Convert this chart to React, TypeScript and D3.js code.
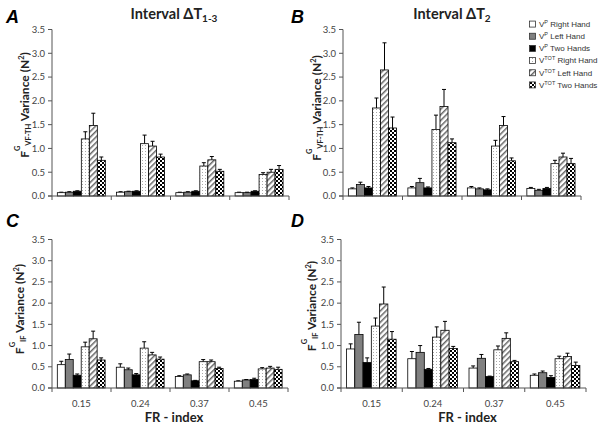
import React from "react";
import * as d3 from "d3";

const categories = ["0.15", "0.24", "0.37", "0.45"];
const seriesKeys = ["vpR", "vpL", "vp2", "vtR", "vtL", "vt2"];
const seriesBase = ["V", "V", "V", "V", "V", "V"];
const seriesSup = ["P", "P", "P", "TOT", "TOT", "TOT"];
const seriesRest = [" Right Hand", " Left Hand", " Two Hands", " Right Hand", " Left Hand", " Two Hands"];
const yTicks = [0, 0.5, 1.0, 1.5, 2.0, 2.5, 3.0, 3.5];

// Panel A: F^G VF-TH, interval dT1-3
const meansA = [
  [0.07, 0.08, 0.10, 1.20, 1.48, 0.75],
  [0.08, 0.09, 0.10, 1.10, 1.05, 0.82],
  [0.07, 0.08, 0.10, 0.63, 0.76, 0.52],
  [0.07, 0.07, 0.10, 0.45, 0.50, 0.56],
];
const errsA = [
  [0.01, 0.01, 0.01, 0.15, 0.26, 0.07],
  [0.01, 0.01, 0.01, 0.18, 0.10, 0.06],
  [0.01, 0.01, 0.01, 0.07, 0.07, 0.04],
  [0.01, 0.01, 0.01, 0.04, 0.06, 0.08],
];
// Panel B: F^G VF-TH, interval dT2
const meansB = [
  [0.15, 0.24, 0.17, 1.85, 2.65, 1.43],
  [0.17, 0.28, 0.17, 1.40, 1.88, 1.12],
  [0.17, 0.15, 0.13, 1.05, 1.48, 0.74],
  [0.16, 0.12, 0.16, 0.68, 0.82, 0.68],
];
const errsB = [
  [0.02, 0.05, 0.03, 0.21, 0.57, 0.23],
  [0.03, 0.09, 0.02, 0.30, 0.36, 0.08],
  [0.03, 0.02, 0.02, 0.12, 0.19, 0.06],
  [0.02, 0.02, 0.02, 0.07, 0.08, 0.11],
];
// Panel C: F^G IF, interval dT1-3
const meansC = [
  [0.55, 0.67, 0.30, 0.97, 1.16, 0.66],
  [0.49, 0.43, 0.31, 0.94, 0.78, 0.68],
  [0.27, 0.31, 0.17, 0.62, 0.62, 0.46],
  [0.16, 0.19, 0.20, 0.45, 0.47, 0.44],
];
const errsC = [
  [0.08, 0.13, 0.03, 0.11, 0.18, 0.05],
  [0.08, 0.04, 0.03, 0.15, 0.06, 0.05],
  [0.02, 0.02, 0.01, 0.05, 0.04, 0.03],
  [0.01, 0.01, 0.03, 0.03, 0.04, 0.05],
];
// Panel D: F^G IF, interval dT2
const meansD = [
  [0.92, 1.26, 0.60, 1.46, 1.98, 1.15],
  [0.69, 0.84, 0.44, 1.20, 1.36, 0.93],
  [0.47, 0.70, 0.27, 0.90, 1.17, 0.62],
  [0.30, 0.36, 0.25, 0.69, 0.74, 0.53],
];
const errsD = [
  [0.12, 0.29, 0.11, 0.19, 0.40, 0.18],
  [0.17, 0.16, 0.02, 0.24, 0.21, 0.05],
  [0.05, 0.09, 0.01, 0.09, 0.13, 0.03],
  [0.03, 0.04, 0.04, 0.06, 0.08, 0.08],
];

const fills = ["#ffffff", "#808080", "#000000", "url(#dots)", "url(#hatch)", "url(#checker)"];

const sansC = "Lato, 'Open Sans', sans-serif";
const sansA = "'Liberation Sans', Arial, sans-serif";

type PanelCfg = {
  letter: string;
  means: number[][];
  errs: number[][];
  x0: number; x1: number; yB: number; yT: number;
  sub: string;
  labelX: number; labelY: number;
  letterX: number; letterY: number;
  showX: boolean;
};

const panels: PanelCfg[] = [
  { letter: "A", means: meansA, errs: errsA, x0: 52, x1: 289, yB: 196, yT: 29.5, sub: "VF-TH", labelX: 29, labelY: 105, letterX: 6, letterY: 23, showX: false },
  { letter: "B", means: meansB, errs: errsB, x0: 343, x1: 581, yB: 196, yT: 29.5, sub: "VF-TH", labelX: 321, labelY: 108, letterX: 291, letterY: 23, showX: false },
  { letter: "C", means: meansC, errs: errsC, x0: 52, x1: 288, yB: 388, yT: 239.5, sub: "IF", labelX: 24, labelY: 309, letterX: 6, letterY: 227, showX: true },
  { letter: "D", means: meansD, errs: errsD, x0: 341, x1: 586, yB: 388, yT: 239.5, sub: "IF", labelX: 316, labelY: 306, letterX: 291, letterY: 227, showX: true },
];

function Panel({ p }: { p: PanelCfg }) {
  const x = d3.scaleBand<string>().domain(categories).range([p.x0, p.x1]);
  const bw = x.bandwidth();
  const inner = d3.scaleBand<string>().domain(seriesKeys).range([bw * 0.09, bw * 0.9]);
  const y = d3.scaleLinear().domain([0, 3.5]).range([p.yB, p.yT]);
  const fmt = d3.format(".1f");
  const axisColor = "#555";
  const boundaries = categories.map((c) => x(c) as number).concat([p.x1]);
  return (
    <g>
      {categories.map((c, ci) => (
        <g key={c}>
          {seriesKeys.map((s, si) => {
            const v = p.means[ci][si];
            const e = p.errs[ci][si];
            const bx = (x(c) as number) + (inner(s) as number);
            const w = inner.bandwidth();
            const cx = bx + w / 2;
            return (
              <g key={s}>
                <line x1={cx} x2={cx} y1={y(v)} y2={y(v + e)} stroke="#000" strokeWidth={1} />
                <line x1={cx - 2} x2={cx + 2} y1={y(v + e)} y2={y(v + e)} stroke="#000" strokeWidth={1} />
                <rect x={bx} y={y(v)} width={w} height={p.yB - y(v)} fill={fills[si]} stroke="#000" strokeWidth={0.8} />
              </g>
            );
          })}
        </g>
      ))}
      <line x1={p.x0} x2={p.x0} y1={p.yB} y2={p.yT} stroke={axisColor} strokeWidth={1} />
      <line x1={p.x0 - 4} x2={p.x1} y1={p.yB} y2={p.yB} stroke={axisColor} strokeWidth={1} />
      {yTicks.map((t) => (
        <g key={t}>
          <line x1={p.x0 - 4} x2={p.x0} y1={y(t)} y2={y(t)} stroke={axisColor} strokeWidth={1} />
          <text x={p.x0 - 7} y={y(t)} dy="0.35em" textAnchor="end" fontFamily={sansC} fontSize={9.5} fill="#444">
            {fmt(t)}
          </text>
        </g>
      ))}
      {boundaries.map((b, i) => (
        <line key={i} x1={b} x2={b} y1={p.yB} y2={p.yB + 4} stroke={axisColor} strokeWidth={1} />
      ))}
      {p.showX &&
        categories.map((c) => (
          <text key={c} x={(x(c) as number) + bw / 2} y={407} textAnchor="middle" fontFamily={sansC} fontSize={9.5} fill="#444">
            {c}
          </text>
        ))}
      {p.showX && (
        <text x={(p.x0 + p.x1) / 2 + 4} y={422} textAnchor="middle" fontFamily={sansC} fontWeight="bold" fontSize={13} fill="#222">
          FR - index
        </text>
      )}
      <g transform={`translate(${p.labelX},${p.labelY}) rotate(-90)`}>
        <text x={0} y={0} textAnchor="middle" fontFamily={sansC} fontWeight="bold" fontSize={12} fill="#222">
          F
          <tspan fontSize={7.5} dy={-9}>G</tspan>
          <tspan fontSize={7.5} dy={11}>{p.sub}</tspan>
          <tspan dy={-2}> Variance (N</tspan>
          <tspan fontSize={7.5} dy={-5}>2</tspan>
          <tspan dy={5}>)</tspan>
        </text>
      </g>
      <text x={p.letterX} y={p.letterY} fontFamily={sansA} fontWeight="bold" fontStyle="italic" fontSize={18} fill="#000">
        {p.letter}
      </text>
    </g>
  );
}

export default function App() {
  const legendY = d3.scaleBand<string>().domain(seriesKeys).range([18, 91]);
  return (
    <svg width={601} height={430} style={{ position: "absolute", left: 0, top: 0, background: "#fff" }}>
      <defs>
        <pattern id="dots" width={3} height={3} patternUnits="userSpaceOnUse">
          <rect width={3} height={3} fill="#fff" />
          <rect x={1} y={1} width={1} height={1} fill="#aaa" />
        </pattern>
        <pattern id="hatch" width={4} height={4} patternUnits="userSpaceOnUse" patternTransform="rotate(45)">
          <rect width={4} height={4} fill="#fff" />
          <line x1={0.75} y1={0} x2={0.75} y2={4} stroke="#666" strokeWidth={1.5} />
        </pattern>
        <pattern id="checker" width={4} height={4} patternUnits="userSpaceOnUse">
          <rect width={4} height={4} fill="#fff" />
          <rect x={0} y={0} width={2} height={2} fill="#000" />
          <rect x={2} y={2} width={2} height={2} fill="#000" />
        </pattern>
      </defs>
      <rect width={601} height={430} fill="#fff" />
      {panels.map((p) => (
        <Panel key={p.letter} p={p} />
      ))}
      <text x={174} y={19} textAnchor="middle" fontFamily={sansC} fontWeight="bold" fontSize={14.5} fill="#222">
        Interval ΔT<tspan fontSize={10} dy={3}>1-3</tspan>
      </text>
      <text x={452} y={19} textAnchor="middle" fontFamily={sansC} fontWeight="bold" fontSize={14.5} fill="#222">
        Interval ΔT<tspan fontSize={10} dy={3}>2</tspan>
      </text>
      {seriesKeys.map((s, i) => {
        const cy = (legendY(s) as number) + legendY.bandwidth() / 2;
        return (
          <g key={s}>
            <rect x={529.5} y={cy - 3} width={6} height={6} fill={fills[i]} stroke="#333" strokeWidth={0.8} />
            <text x={539} y={cy} dy="0.35em" fontFamily={sansA} fontSize={8} fill="#333">
              {seriesBase[i]}
              <tspan fontSize={5.5} dy={-3}>{seriesSup[i]}</tspan>
              <tspan dy={3}>{seriesRest[i]}</tspan>
            </text>
          </g>
        );
      })}
    </svg>
  );
}
